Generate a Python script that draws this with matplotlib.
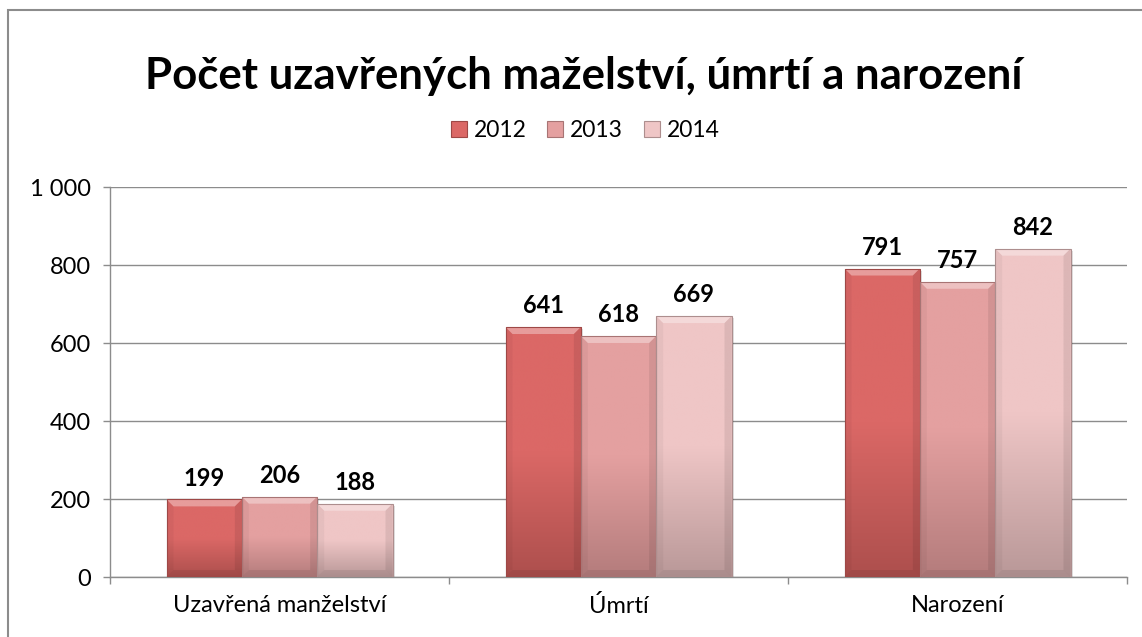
import numpy as np
import matplotlib
matplotlib.use("Agg")
import matplotlib.pyplot as plt
from matplotlib.colors import LinearSegmentedColormap
from matplotlib.patches import Rectangle, Polygon
from matplotlib.ticker import FuncFormatter, FixedLocator

categories = ["Uzavřená manželství", "Úmrtí", "Narození"]
years = ["2012", "2013", "2014"]
values_2012 = [199, 641, 791]
values_2013 = [206, 618, 757]
values_2014 = [188, 669, 842]
series = [values_2012, values_2013, values_2014]
title = "Počet uzavřených manželství, úmrtí a narození".replace("manželství", "mažel" + "ství")
yticks = [0, 200, 400, 600, 800, 1000]

top_colors = ["#DB6866", "#E4A0A0", "#EFC6C6"]
bot_colors = ["#AD4F4D", "#B47C7C", "#B99898"]
edge_colors = ["#9E4846", "#A87474", "#AD8E8E"]

plt.rcParams['font.family'] = ['Lato', 'DejaVu Sans']

W, H = 1142, 637
fig = plt.figure(figsize=(W / 100, H / 100), dpi=100)
ax = fig.add_axes([110 / W, 1 - 577 / H, (1127 - 110) / W, (577 - 187) / H])

x = np.arange(len(categories))
bw = 2 / 9  # gap width 50%
ymax = 1000

px2data = ymax / (577 - 187)
px2x = len(categories) / (1127 - 110)

for i, vals in enumerate(series):
    offs = (i - 1) * bw
    bars = ax.bar(x + offs, vals, width=bw, color="none", edgecolor=edge_colors[i],
                  linewidth=0.8, zorder=4)
    cmap = LinearSegmentedColormap.from_list(
        f"g{i}", [(0.0, top_colors[i]), (0.5, top_colors[i]), (1.0, bot_colors[i])])
    for b, v in zip(bars, vals):
        x0 = b.get_x(); x1 = x0 + b.get_width()
        grad = np.linspace(0, 1, 256).reshape(-1, 1)
        im = ax.imshow(grad, extent=[x0, x1, 0, v], origin="upper", aspect="auto",
                       cmap=cmap, zorder=3, interpolation="bilinear")
        im.set_clip_path(b)
        sh = Rectangle((x0 + 2 * px2x, -2 * px2data), x1 - x0, v, facecolor="#000000",
                       alpha=0.12, zorder=2.5, linewidth=0)
        ax.add_patch(sh)
        bev = 7 * px2data
        bevx = 7 * px2x
        top = Polygon([(x0, v), (x1, v), (x1 - bevx, v - bev), (x0 + bevx, v - bev)],
                      closed=True, facecolor="white", alpha=0.35, linewidth=0, zorder=3.5)
        left = Polygon([(x0, v), (x0 + bevx, v - bev), (x0 + bevx, bev), (x0, 0)],
                       closed=True, facecolor="black", alpha=0.04, linewidth=0, zorder=3.5)
        right = Polygon([(x1, v), (x1 - bevx, v - bev), (x1 - bevx, bev), (x1, 0)],
                        closed=True, facecolor="black", alpha=0.08, linewidth=0, zorder=3.5)
        bottom = Polygon([(x0, 0), (x1, 0), (x1 - bevx, bev), (x0 + bevx, bev)],
                         closed=True, facecolor="black", alpha=0.07, linewidth=0, zorder=3.5)
        for p in (top, left, right, bottom):
            ax.add_patch(p)
        ax.annotate(f"{v}", xy=(b.get_x() + b.get_width() / 2, v), xytext=(0, 7),
                    textcoords="offset points", ha="center", va="bottom",
                    fontsize=17, fontweight="bold", color="black", zorder=6)

ax.set_xlim(-0.5, len(categories) - 0.5)
ax.set_ylim(0, ymax)

ax.yaxis.set_major_locator(FixedLocator(yticks))
ax.yaxis.set_major_formatter(FuncFormatter(lambda v, p: f"{int(v):,}".replace(",", " ")))
ax.grid(axis="y", color="#8C8C8C", linewidth=1.0, zorder=0)
ax.set_axisbelow(True)
ax.set_xticks(x)
ax.set_xticklabels(categories)
ax.set_xticks(np.arange(-0.5, len(categories) + 0.5, 1), minor=True)
ax.tick_params(axis="x", which="major", length=0, pad=13, labelsize=17)
ax.tick_params(axis="x", which="minor", length=5, direction="out", color="#8C8C8C", width=1)
ax.tick_params(axis="y", length=5, direction="out", color="#8C8C8C", width=1, pad=9,
               labelsize=17)
for s in ("top", "right"):
    ax.spines[s].set_visible(False)
for s in ("left", "bottom"):
    ax.spines[s].set_color("#8C8C8C")
    ax.spines[s].set_linewidth(1.0)

fig.text(584 / W, 1 - 76 / H, title, ha="center", va="center", fontsize=31.5, fontweight="bold")

handles = [Rectangle((0, 0), 1, 1, facecolor=top_colors[i], edgecolor=edge_colors[i], linewidth=0.8)
           for i in range(3)]
fig.legend(handles, years, loc="center", bbox_to_anchor=(585 / W, 1 - 131 / H), ncol=3,
           frameon=False, fontsize=16.5, handlelength=0.7, handleheight=0.7,
           handletextpad=0.3, columnspacing=0.9)

fig.add_artist(Rectangle((8 / W, -0.1), 1.2, 1 - 10 / H + 0.1, transform=fig.transFigure,
                         facecolor="none", edgecolor="#8C8C8C", linewidth=1.5))

fig.savefig("out.png", dpi=100)
